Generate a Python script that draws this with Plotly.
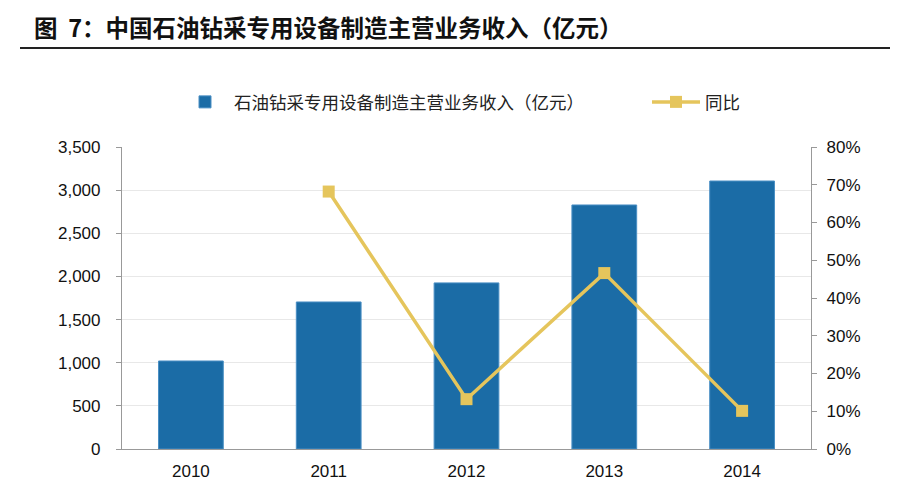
import plotly.graph_objects as go

years = ["2010", "2011", "2012", "2013", "2014"]
revenue = [1020, 1704, 1925, 2828, 3106]
yoy = [None, 68.2, 13.2, 46.6, 10.1]

left_ticks = [0, 500, 1000, 1500, 2000, 2500, 3000, 3500]
left_labels = ["0", "500", "1,000", "1,500", "2,000", "2,500", "3,000", "3,500"]
right_ticks = [0, 10, 20, 30, 40, 50, 60, 70, 80]
right_labels = ["0%", "10%", "20%", "30%", "40%", "50%", "60%", "70%", "80%"]

bar_name = "石油钻采专用设备制造主营业务收入（亿元）"
line_name = "同比"
title_text = "图  7：中国石油钻采专用设备制造主营业务收入（亿元）"

BLUE = "#1B6CA6"
GOLD = "#E5C55C"
num_font = "Liberation Sans, Arial, sans-serif"
cjk_font = "Noto Sans CJK SC, sans-serif"

# page body has an 8px default margin: figure drawn from (8, 8)
OFF = 8
W, H = 898 - OFF, 496 - OFF

fig = go.Figure()
fig.add_trace(go.Bar(x=years, y=revenue, name=bar_name, marker_color=BLUE,
                     marker_line=dict(color="#4A8FC4", width=1), yaxis="y",
                     legend="legend"))
fig.add_trace(go.Scatter(x=years, y=yoy, name=line_name, mode="lines+markers",
                         line=dict(color=GOLD, width=3.5),
                         marker=dict(symbol="square", size=12, color=GOLD),
                         yaxis="y2", connectgaps=False, legend="legend2"))

leg_common = dict(orientation="h", xref="container", yref="container",
                  xanchor="left", yanchor="middle",
                  font=dict(family=cjk_font, size=17.5, color="#222"),
                  itemwidth=48, bgcolor="rgba(0,0,0,0)")

tick_font = dict(family=num_font, size=17, color="#111")

fig.update_layout(
    width=W, height=H,
    margin=dict(l=122 - OFF, r=87, t=147 - OFF, b=47, autoexpand=False),
    paper_bgcolor="white", plot_bgcolor="white",
    bargap=0.53,
    showlegend=True,
    legend=dict(x=(176 - OFF) / W, y=1 - (102 - OFF) / H, **leg_common),
    legend2=dict(x=(647 - OFF) / W, y=1 - (102 - OFF) / H, **leg_common),
    xaxis=dict(type="category", showline=True, linecolor="#999", linewidth=1.2,
               ticks="", tickfont=tick_font, ticklabelstandoff=6,
               showgrid=False),
    yaxis=dict(range=[0, 3500], tickvals=left_ticks, ticktext=left_labels,
               showline=True, linecolor="#999", linewidth=1.2,
               ticks="outside", ticklen=5, tickcolor="#999",
               gridcolor="#E8E8E8", gridwidth=1.2,
               tickfont=tick_font, ticklabelstandoff=12,
               zeroline=False),
    yaxis2=dict(range=[0, 80], tickvals=right_ticks, ticktext=right_labels,
                overlaying="y", side="right", showline=True, linecolor="#999",
                linewidth=1.2, ticks="outside", ticklen=5, tickcolor="#999",
                showgrid=False, zeroline=False,
                tickfont=tick_font, ticklabelstandoff=6),
)

fig.add_annotation(text="<b>" + title_text + "</b>", xref="paper", yref="paper",
                   x=(32 - 122) / 689, y=(449 - 27) / 302, xanchor="left", yanchor="middle",
                   showarrow=False, font=dict(family=cjk_font, size=23.5, color="#111"))
fig.add_shape(type="line", xref="paper", yref="paper",
              x0=(20 - 122) / 689, x1=(900 - 122) / 689,
              y0=(449 - 48) / 302, y1=(449 - 48) / 302,
              line=dict(color="#222", width=2))

fig.write_html("out.html")
